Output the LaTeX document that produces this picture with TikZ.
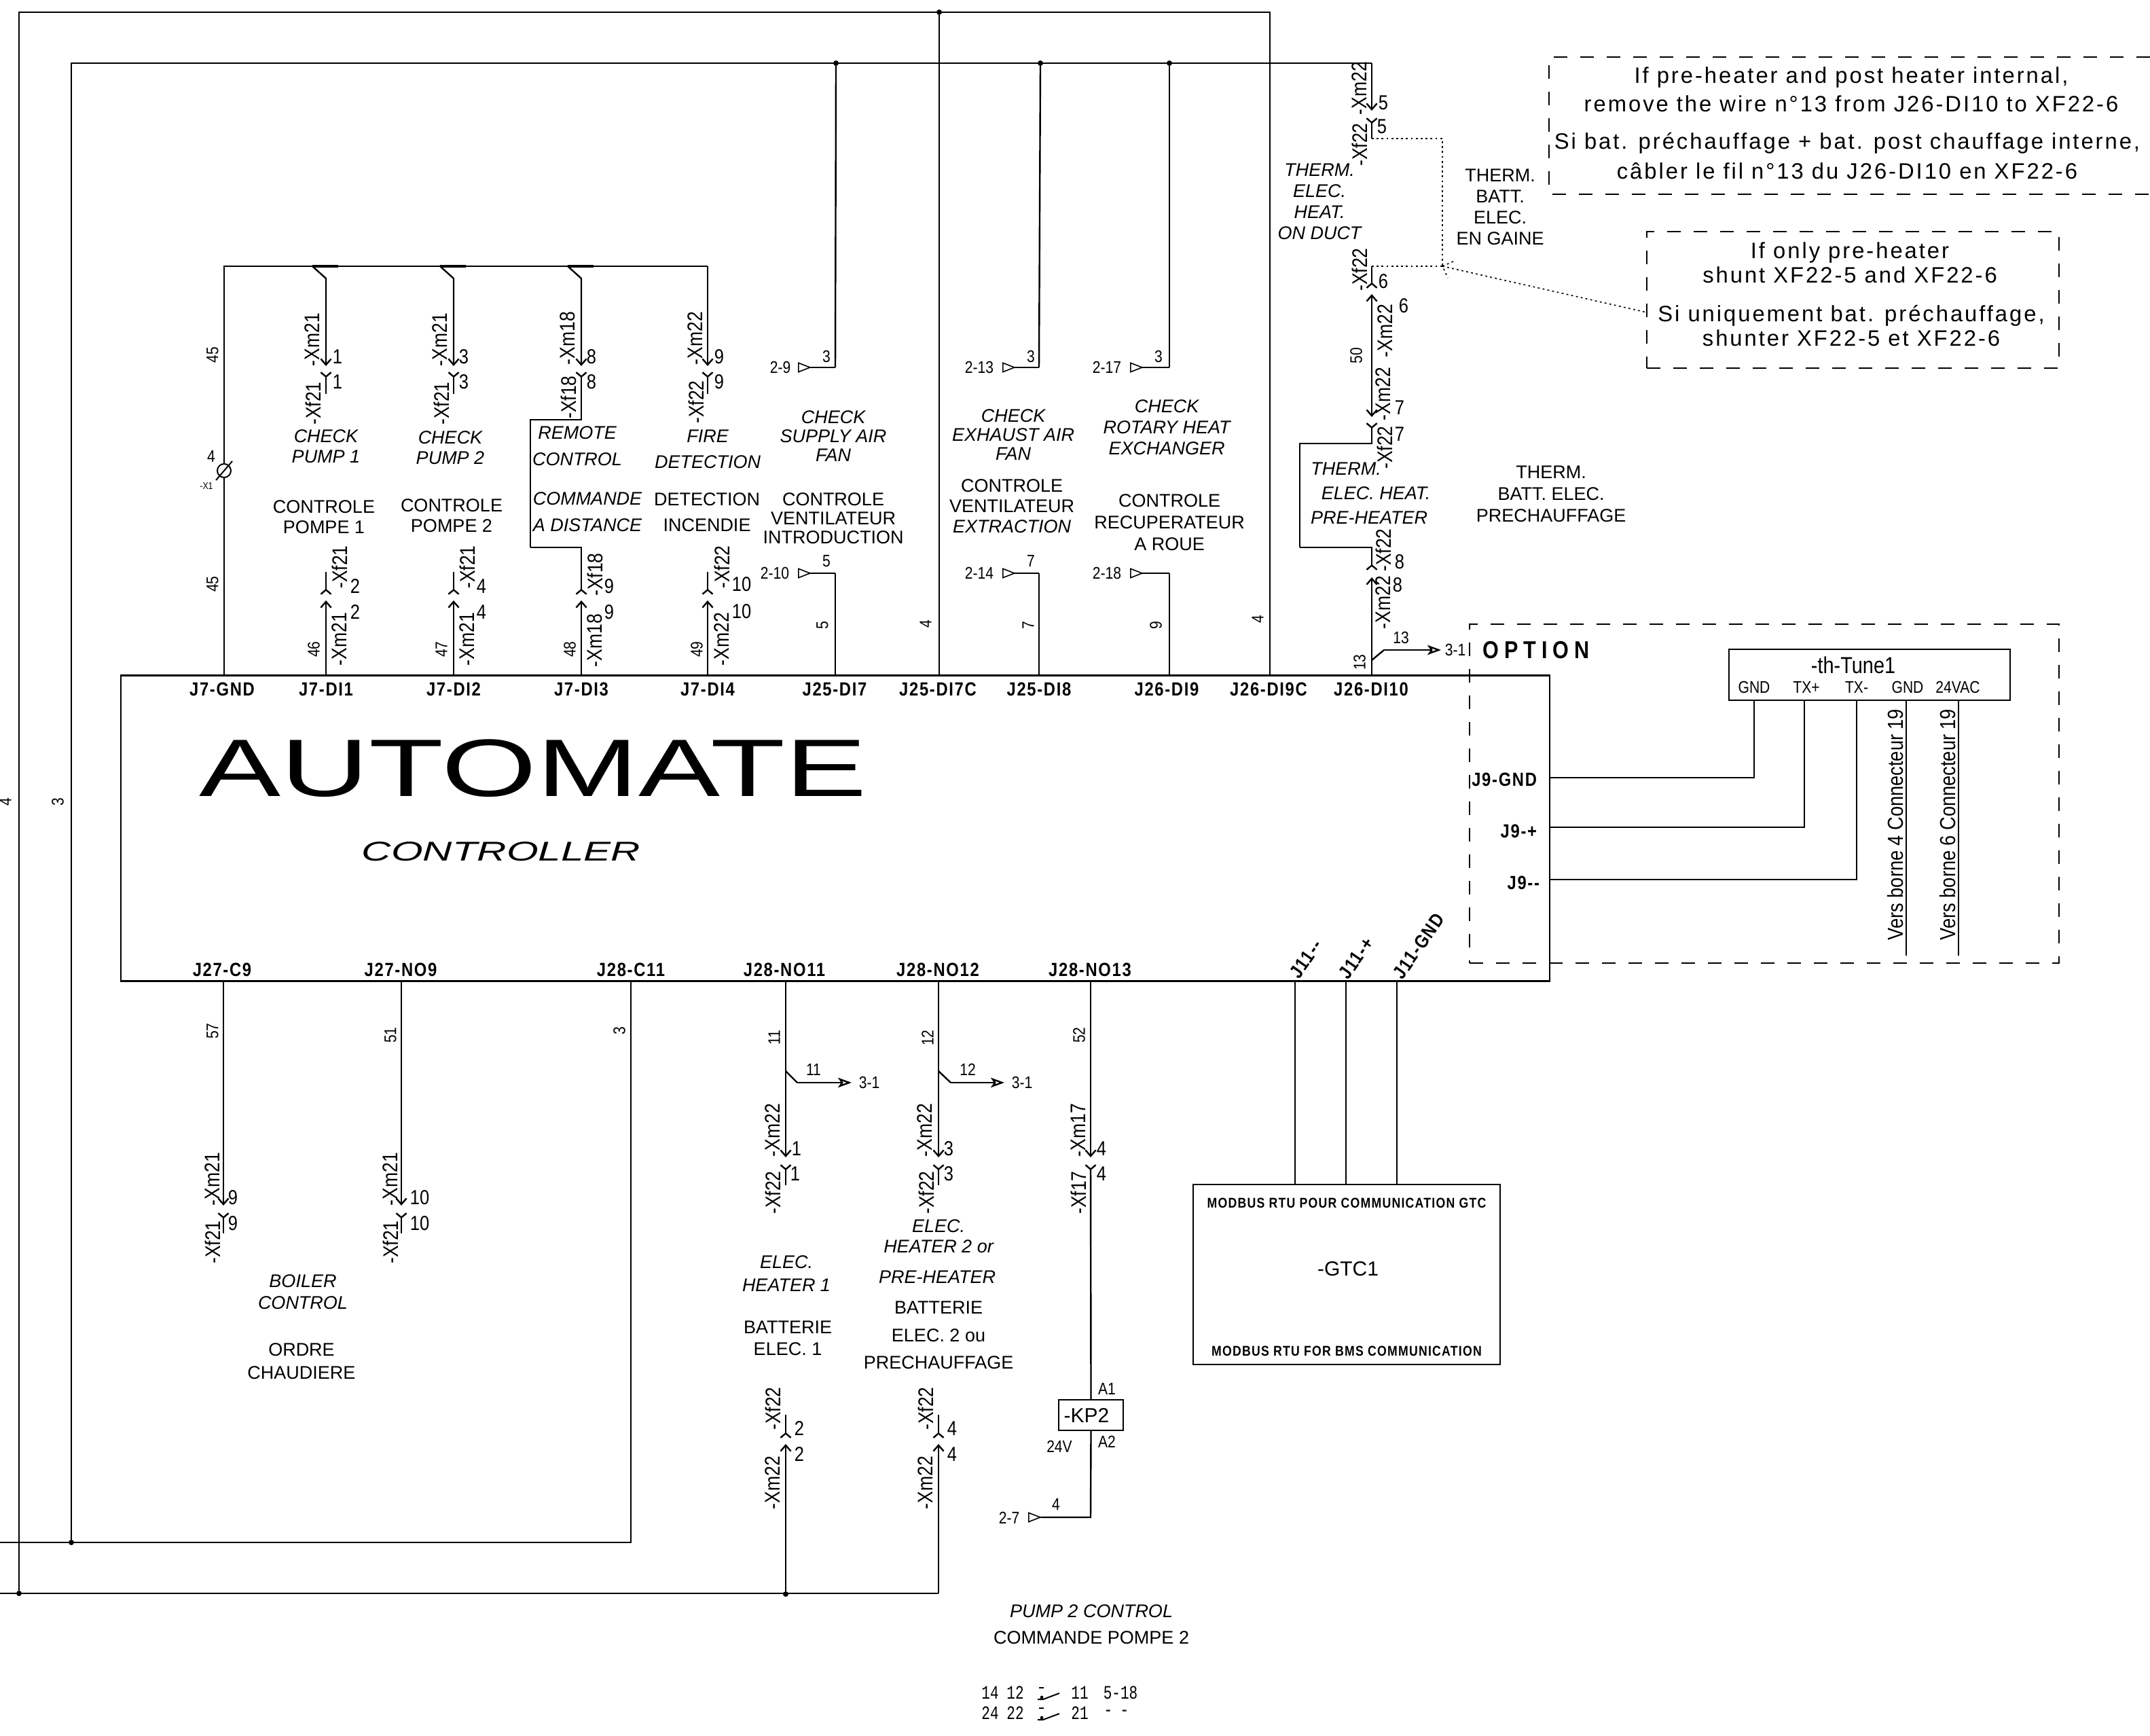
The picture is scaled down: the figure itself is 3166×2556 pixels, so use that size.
\documentclass[tikz,border=0pt]{standalone}
\usepackage{fontspec}
\setmainfont{Liberation Sans}
\newfontfamily\cadnarrow[FakeStretch=0.85]{Liberation Sans}
\newfontfamily\cadwide[FakeStretch=1.5]{Liberation Sans}
\newfontfamily\cadbold[FakeStretch=0.85,LetterSpace=6]{Liberation Sans Bold}
\newfontfamily\cadspaced[FakeStretch=0.85,LetterSpace=22]{Liberation Sans Bold}
\newfontfamily\cadnote[FakeStretch=1,LetterSpace=9]{Liberation Sans}
\newfontfamily\cadmono[FakeStretch=0.75]{Liberation Mono}
\usetikzlibrary{arrows.meta}

\begin{document}
\begin{tikzpicture}[x=0.25pt,y=-0.25pt,>={Straight Barb[length=2.2pt,width=3.8pt]}]
		\tikzstyle{every node}=[inner sep=0pt,outer sep=0pt,align=center]
		\tikzstyle{wire}=[line width=0.6pt,line join=miter]
		\tikzstyle{plug}=[wire,->]
		\tikzstyle{socket}=[wire,-{Straight Barb[reversed,length=1.6pt,width=3.8pt]}]
		\tikzstyle{outarrow}=[wire,-{Stealth[open,length=5pt,width=3.6pt,inset=1.2pt]}]
		\tikzstyle{offpage}=[line width=0.4pt,-{Triangle[open,reversed,length=5pt,width=3.8pt]}]
		\tikzstyle{note}=[line width=0.45pt,dash pattern=on 5pt off 4.75pt]
		\tikzstyle{link}=[line width=0.4pt,dash pattern=on 0.7pt off 1.1pt]
		\tikzstyle{dot}=[circle,fill=black,minimum size=2pt]
		\tikzstyle{lbl}=[font=\fontsize{6.75}{7.5}\selectfont]
		\tikzstyle{ilbl}=[font=\fontsize{6.75}{7.5}\selectfont\itshape]
		\tikzstyle{pinlbl}=[rotate=90,font=\cadnarrow\fontsize{7.8}{8}\selectfont]
		\tikzstyle{pinnum}=[font=\cadnarrow\fontsize{7.5}{8}\selectfont]
		\tikzstyle{wirenum}=[rotate=90,font=\cadnarrow\fontsize{6.2}{7}\selectfont]
		\tikzstyle{tag}=[font=\cadnarrow\fontsize{6.2}{7}\selectfont]
		\tikzstyle{jlbl}=[font=\cadbold\fontsize{7}{8}\selectfont]
		\tikzstyle{jlblr}=[rotate=55,font=\cadbold\fontsize{7}{8}\selectfont]
		\tikzstyle{notetxt}=[font=\cadnote\fontsize{8.2}{9}\selectfont]
		\tikzstyle{vers}=[rotate=90,font=\cadnarrow\fontsize{8}{9}\selectfont]
		\tikzstyle{relay}=[font=\cadmono\fontsize{7}{8}\selectfont]

		\useasboundingbox (0,0) rectangle (3166,2556);

		% controller
		\node[draw,line width=0.6pt,minimum width=526pt,minimum height=112.5pt] (plc) at (1230,1219.5) {};
		\node[font=\cadwide\fontsize{30}{31}\selectfont] (automate) at (785,1131) {AUTOMATE};
		\node[font=\cadwide\fontsize{10}{11}\selectfont\itshape] (controller) at (738,1254) {CONTROLLER};

		\coordinate (tGnd) at (330,994);
		\coordinate (tDia) at (480,994);
		\coordinate (tDib) at (668,994);
		\coordinate (tDic) at (856,994);
		\coordinate (tDid) at (1042,994);
		\coordinate (tSup) at (1230,994);
		\coordinate (tCom) at (1383,994);
		\coordinate (tExh) at (1530,994);
		\coordinate (tRot) at (1722,994);
		\coordinate (tRet) at (1870,994);
		\coordinate (tOut) at (2020,994);
		\coordinate (bBoil) at (329,1444);
		\coordinate (bNoa) at (591,1444);
		\coordinate (bRet) at (929,1444);
		\coordinate (bHa) at (1157,1444);
		\coordinate (bHb) at (1382,1444);
		\coordinate (bKp) at (1606,1444);
		\coordinate (bMa) at (1907,1444);
		\coordinate (bMb) at (1982,1444);
		\coordinate (bMc) at (2057,1444);

		\node[jlbl] (jGnd) at (327,1015) {J7-GND};
		\node[jlbl] (jDia) at (480,1015) {J7-DI1};
		\node[jlbl] (jDib) at (668,1015) {J7-DI2};
		\node[jlbl] (jDic) at (856,1015) {J7-DI3};
		\node[jlbl] (jDid) at (1042,1015) {J7-DI4};
		\node[jlbl] (jSup) at (1229,1015) {J25-DI7};
		\node[jlbl] (jCom) at (1381,1015) {J25-DI7C};
		\node[jlbl] (jExh) at (1530,1015) {J25-DI8};
		\node[jlbl] (jRot) at (1718,1015) {J26-DI9};
		\node[jlbl] (jRet) at (1868,1015) {J26-DI9C};
		\node[jlbl] (jOut) at (2019,1015) {J26-DI10};
		\node[jlbl] (jBoil) at (327,1428) {J27-C9};
		\node[jlbl] (jNoa) at (590,1428) {J27-NO9};
		\node[jlbl] (jRetb) at (929,1428) {J28-C11};
		\node[jlbl] (jHa) at (1155,1428) {J28-NO11};
		\node[jlbl] (jHb) at (1381,1428) {J28-NO12};
		\node[jlbl] (jKp) at (1605,1428) {J28-NO13};
		\node[jlblr] (jMa) at (1923,1412) {J11--};
		\node[jlblr] (jMb) at (1997,1411) {J11-+};
		\node[jlblr] (jMc) at (2089,1393) {J11-GND};
		\node[jlbl,anchor=east] (jNg) at (2263,1148) {J9-GND};
		\node[jlbl,anchor=east] (jNp) at (2263,1224) {J9-+};
		\node[jlbl,anchor=east] (jNm) at (2267,1300) {J9--};

		% loop wire 4
		\node[dot] (dotTop) at (1383,18) {};
		\node[dot] (dotLeft) at (28,2346) {};
		\node[dot] (dotHa) at (1157,2347) {};
		\coordinate (retTop) at (1870,18);
		\coordinate (leftTop) at (28,18);
		\coordinate (botEnd) at (0,2346);
		\coordinate (botHb) at (1382,2346);
		\draw[wire] (tRet) -- (retTop) -- (leftTop) -- (dotLeft);
		\draw[wire] (tCom) -- (dotTop);
		\draw[wire] (botEnd) -- (botHb);
		\node[wirenum] (nLeftb) at (8,1181) {4};
		\node[wirenum] (nCom) at (1363,919) {4};
		\node[wirenum] (nRet) at (1852,912) {4};

		% loop wire 3
		\node[dot] (dotRet) at (105,2271) {};
		\node[dot] (dotSup) at (1231,93) {};
		\node[dot] (dotExh) at (1532,93) {};
		\node[dot] (dotRot) at (1722,93) {};
		\coordinate (outTop) at (2020,93);
		\coordinate (retLeft) at (105,93);
		\coordinate (retEnd) at (0,2271);
		\coordinate (retB) at (929,2271);
		\draw[wire] (outTop) -- (retLeft) -- (dotRet);
		\draw[wire] (retEnd) -- (retB) -- (bRet);
		\node[wirenum] (nLefta) at (85,1181) {3};
		\node[wirenum] (nRetb) at (912,1518) {3};

		% digital inputs J7
		\coordinate (busL) at (330,392);
		\coordinate (busR) at (1042,392);
		\node[circle,draw,line width=0.5pt,minimum size=5pt] (xone) at (330,693) {};
		\coordinate (xoneA) at (318,707);
		\coordinate (xoneB) at (342,679);
		\draw[wire] (tGnd) -- (xone.south);
		\draw[wire] (xone.north) -- (busL) -- (busR);
		\draw[line width=0.5pt] (xoneA) -- (xoneB);
		\node[wirenum] (nGndb) at (313,523) {45};
		\node[wirenum] (nGndc) at (313,860) {45};
		\node[tag] (nFour) at (311,672) {4};
		\node[font=\cadnarrow\fontsize{3.6}{4}\selectfont] (xlbl) at (304,716) {-X1};

		\coordinate (aBus) at (460,392);
		\coordinate (aBusb) at (498,392);
		\coordinate (aKnee) at (480,410);
		\coordinate (aTip) at (480,539);
		\coordinate (aLow) at (480,580);
		\coordinate (aApex) at (480,547);
		\coordinate (aSt) at (480,842);
		\coordinate (aEnd) at (480,876);
		\coordinate (aUp) at (480,884);
		\draw[line width=1pt] (aBus) -- (aBusb);
		\draw[plug] (aBus) -- (aKnee) -- (aTip);
		\draw[socket] (aLow) -- (aApex);
		\draw[socket] (aSt) -- (aEnd);
		\draw[plug] (tDia) -- (aUp);
		\node[pinlbl] (xmAa) at (460,500) {-Xm21};
		\node[pinlbl] (xfAa) at (461,594) {-Xf21};
		\node[pinlbl] (xfAb) at (500,835) {-Xf21};
		\node[pinlbl] (xmAb) at (500,941) {-Xm21};
		\node[pinnum] (pAa) at (497,525) {1};
		\node[pinnum] (pAb) at (497,562) {1};
		\node[pinnum] (pAc) at (523,863) {2};
		\node[pinnum] (pAd) at (523,901) {2};
		\node[wirenum] (nA) at (462,956) {46};

		\coordinate (bBus) at (648,392);
		\coordinate (bBusb) at (686,392);
		\coordinate (bKnee) at (668,410);
		\coordinate (bTip) at (668,539);
		\coordinate (bLow) at (668,580);
		\coordinate (bApex) at (668,547);
		\coordinate (bSt) at (668,842);
		\coordinate (bEnd) at (668,876);
		\coordinate (bUp) at (668,884);
		\draw[line width=1pt] (bBus) -- (bBusb);
		\draw[plug] (bBus) -- (bKnee) -- (bTip);
		\draw[socket] (bLow) -- (bApex);
		\draw[socket] (bSt) -- (bEnd);
		\draw[plug] (tDib) -- (bUp);
		\node[pinlbl] (xmBa) at (648,500) {-Xm21};
		\node[pinlbl] (xfBa) at (650,594) {-Xf21};
		\node[pinlbl] (xfBb) at (688,835) {-Xf21};
		\node[pinlbl] (xmBb) at (688,941) {-Xm21};
		\node[pinnum] (pBa) at (683,525) {3};
		\node[pinnum] (pBb) at (683,562) {3};
		\node[pinnum] (pBc) at (709,863) {4};
		\node[pinnum] (pBd) at (709,901) {4};
		\node[wirenum] (nB) at (650,956) {47};

		\coordinate (cBus) at (836,392);
		\coordinate (cBusb) at (874,392);
		\coordinate (cKnee) at (856,410);
		\coordinate (cTip) at (856,539);
		\coordinate (cHi) at (856,618);
		\coordinate (cApex) at (856,547);
		\coordinate (cJogA) at (781,618);
		\coordinate (cJogB) at (781,806);
		\coordinate (cLo) at (856,806);
		\coordinate (cEnd) at (856,876);
		\coordinate (cUp) at (856,884);
		\draw[line width=1pt] (cBus) -- (cBusb);
		\draw[plug] (cBus) -- (cKnee) -- (cTip);
		\draw[socket] (cJogB) -- (cJogA) -- (cHi) -- (cApex);
		\draw[socket] (cJogB) -- (cLo) -- (cEnd);
		\draw[plug] (tDic) -- (cUp);
		\node[pinlbl] (xmCa) at (836,498) {-Xm18};
		\node[pinlbl] (xfCa) at (837,585) {-Xf18};
		\node[pinlbl] (xfCb) at (876,846) {-Xf18};
		\node[pinlbl] (xmCb) at (876,943) {-Xm18};
		\node[pinnum] (pCa) at (871,525) {8};
		\node[pinnum] (pCb) at (871,562) {8};
		\node[pinnum] (pCc) at (897,863) {9};
		\node[pinnum] (pCd) at (897,901) {9};
		\node[wirenum] (nC) at (839,956) {48};

		\coordinate (dTip) at (1042,539);
		\coordinate (dLow) at (1042,580);
		\coordinate (dApex) at (1042,547);
		\coordinate (dSt) at (1042,842);
		\coordinate (dEnd) at (1042,876);
		\coordinate (dUp) at (1042,884);
		\draw[plug] (busR) -- (dTip);
		\draw[socket] (dLow) -- (dApex);
		\draw[socket] (dSt) -- (dEnd);
		\draw[plug] (tDid) -- (dUp);
		\node[pinlbl] (xmDa) at (1024,498) {-Xm22};
		\node[pinlbl] (xfDa) at (1025,592) {-Xf22};
		\node[pinlbl] (xfDb) at (1063,835) {-Xf22};
		\node[pinlbl] (xmDb) at (1063,941) {-Xm22};
		\node[pinnum] (pDa) at (1059,525) {9};
		\node[pinnum] (pDb) at (1059,562) {9};
		\node[pinnum] (pDc) at (1092,860) {10};
		\node[pinnum] (pDd) at (1092,900) {10};
		\node[wirenum] (nD) at (1026,956) {49};

		\node[ilbl] (chkA) at (480,657) {CHECK\\PUMP 1};
		\node[lbl] (ctrA) at (477,761) {CONTROLE\\POMPE 1};
		\node[ilbl] (chkB) at (663,659) {CHECK\\PUMP 2};
		\node[lbl] (ctrB) at (665,759) {CONTROLE\\POMPE 2};
		\node[ilbl] (rmt) at (850,657) {REMOTE\\[2.2pt]CONTROL};
		\node[ilbl] (cmd) at (865,754) {COMMANDE\\[2.2pt]A DISTANCE};
		\node[ilbl] (fire) at (1042,661) {FIRE\\[2pt]DETECTION};
		\node[lbl] (det) at (1041,754) {DETECTION\\[2pt]INCENDIE};

		% fans and recovery
		\coordinate (supA) at (1230,541);
		\coordinate (supB) at (1175,541);
		\coordinate (supC) at (1230,844);
		\coordinate (supD) at (1175,844);
		\draw[wire] (dotSup) -- (supA);
		\draw[offpage] (supA) -- (supB);
		\draw[wire] (tSup) -- (supC);
		\draw[offpage] (supC) -- (supD);
		\node[tag] (tSa) at (1149,541) {2-9};
		\node[tag] (tSb) at (1217,525) {3};
		\node[tag] (tSc) at (1141,844) {2-10};
		\node[tag] (tSd) at (1217,826) {5};
		\node[wirenum] (nS) at (1211,921) {5};
		\node[ilbl] (chkS) at (1227,642) {CHECK\\[-0.5pt]SUPPLY AIR\\[-0.5pt]FAN};
		\node[lbl] (ctrS) at (1227,763) {CONTROLE\\[-0.5pt]VENTILATEUR\\[-0.5pt]INTRODUCTION};

		\coordinate (exhA) at (1530,541);
		\coordinate (exhB) at (1476,541);
		\coordinate (exhC) at (1530,844);
		\coordinate (exhD) at (1476,844);
		\draw[wire] (dotExh) -- (exhA);
		\draw[offpage] (exhA) -- (exhB);
		\draw[wire] (tExh) -- (exhC);
		\draw[offpage] (exhC) -- (exhD);
		\node[tag] (tEa) at (1442,541) {2-13};
		\node[tag] (tEb) at (1518,525) {3};
		\node[tag] (tEc) at (1442,844) {2-14};
		\node[tag] (tEd) at (1518,826) {7};
		\node[wirenum] (nE) at (1514,921) {7};
		\node[ilbl] (chkE) at (1492,640) {CHECK\\[-0.5pt]EXHAUST AIR\\[-0.5pt]FAN};
		\node[lbl] (ctrE) at (1490,745) {CONTROLE\\VENTILATEUR\\{\itshape EXTRACTION}};

		\coordinate (rotA) at (1722,541);
		\coordinate (rotB) at (1664,541);
		\coordinate (rotC) at (1722,844);
		\coordinate (rotD) at (1664,844);
		\draw[wire] (dotRot) -- (rotA);
		\draw[offpage] (rotA) -- (rotB);
		\draw[wire] (tRot) -- (rotC);
		\draw[offpage] (rotC) -- (rotD);
		\node[tag] (tRa) at (1630,541) {2-17};
		\node[tag] (tRb) at (1706,525) {3};
		\node[tag] (tRc) at (1630,844) {2-18};
		\node[wirenum] (nR) at (1702,921) {9};
		\node[ilbl] (chkR) at (1718,629) {CHECK\\[0.3pt]ROTARY HEAT\\[0.3pt]EXCHANGER};
		\node[lbl] (ctrR) at (1722,769) {CONTROLE\\[0.5pt]RECUPERATEUR\\[0.5pt]A ROUE};

		% thermostats
		\coordinate (oTipa) at (2020,163);
		\coordinate (oApa) at (2020,173);
		\coordinate (oLowa) at (2020,204);
		\coordinate (oDotC) at (2124,204);
		\coordinate (oDotD) at (2124,392);
		\coordinate (oHib) at (2020,392);
		\coordinate (oApb) at (2020,425);
		\coordinate (oTipb) at (2020,433);
		\coordinate (oTipc) at (2020,614);
		\coordinate (oApc) at (2020,622);
		\coordinate (oKneeA) at (2020,653);
		\coordinate (oKneeB) at (1914,653);
		\coordinate (oKneeC) at (1914,806);
		\coordinate (oKneeD) at (2020,806);
		\coordinate (oApd) at (2020,840);
		\coordinate (oTipd) at (2020,850);
		\coordinate (oBr) at (2020,972);
		\coordinate (oBrb) at (2038,957);
		\coordinate (oBrc) at (2122,957);
		\coordinate (tickA) at (2140,385);
		\coordinate (tickB) at (2132,409);
		\draw[plug] (outTop) -- (oTipa);
		\draw[socket] (oLowa) -- (oApa);
		\draw[socket] (oHib) -- (oApb);
		\draw[plug,<->] (oTipb) -- (oTipc);
		\draw[socket] (oKneeC) -- (oKneeB) -- (oKneeA) -- (oApc);
		\draw[socket] (oKneeC) -- (oKneeD) -- (oApd);
		\draw[plug] (tOut) -- (oTipd);
		\draw[wire] (oBr) -- (oBrb);
		\draw[outarrow] (oBrb) -- (oBrc);
		\draw[link] (oLowa) -- (oDotC) -- (oDotD);
		\draw[link] (oHib) -- (oDotD);
		\draw[link] (tickA) -- (oDotD) -- (tickB);
		\node[pinlbl] (xmOa) at (2002,130) {-Xm22};
		\node[pinlbl] (xfOa) at (2002,213) {-Xf22};
		\node[pinlbl] (xfOb) at (2002,397) {-Xf22};
		\node[pinlbl] (xmOb) at (2040,487) {-Xm22};
		\node[pinlbl] (xmOc) at (2037,580) {-Xm22};
		\node[pinlbl] (xfOc) at (2039,659) {-Xf22};
		\node[pinlbl] (xfOd) at (2037,810) {-Xf22};
		\node[pinlbl] (xmOd) at (2037,887) {-Xm22};
		\node[pinnum] (pOa) at (2037,151) {5};
		\node[pinnum] (pOb) at (2035,186) {5};
		\node[pinnum] (pOc) at (2037,414) {6};
		\node[pinnum] (pOd) at (2067,450) {6};
		\node[pinnum] (pOe) at (2061,600) {7};
		\node[pinnum] (pOf) at (2061,639) {7};
		\node[pinnum] (pOg) at (2061,827) {8};
		\node[pinnum] (pOh) at (2058,861) {8};
		\node[wirenum] (nOa) at (1997,524) {50};
		\node[wirenum] (nOb) at (2002,975) {13};
		\node[tag] (tOa) at (2063,939) {13};
		\node[tag] (tOb) at (2143,957) {3-1};
		\node[ilbl] (thA) at (1943,297) {THERM.\\[0.25pt]ELEC.\\[0.25pt]HEAT.\\[0.25pt]ON DUCT};
		\node[lbl] (thB) at (2209,305) {THERM.\\[0.25pt]BATT.\\[0.25pt]ELEC.\\[0.25pt]EN GAINE};
		\node[ilbl] (thCa) at (1982,690) {THERM.};
		\node[ilbl] (thCb) at (2026,726) {ELEC. HEAT.};
		\node[ilbl] (thCc) at (2016,762) {PRE-HEATER};
		\node[lbl] (thD) at (2284,727) {THERM.\\[0.5pt]BATT. ELEC.\\[0.5pt]PRECHAUFFAGE};

		% notes
		\coordinate (noteA) at (3166,84);
		\coordinate (noteB) at (2281,84);
		\coordinate (noteC) at (2281,286);
		\coordinate (noteD) at (3166,286);
		\draw[note] (noteA) -- (noteB) -- (noteC) -- (noteD);
		\node[notetxt] (noteAa) at (2726,132) {If pre-heater and post heater internal,\\[1.5pt]remove the wire n°13 from J26-DI10 to XF22-6};
		\node[notetxt] (noteAb) at (2720,230) {Si bat. préchauffage + bat. post chauffage interne,\\[2pt]câbler le fil n°13 du J26-DI10 en XF22-6};
		\node[draw,note,minimum width=151.75pt,minimum height=50.25pt] (noteBox) at (2728.5,441.5) {};
		\node[notetxt] (noteBa) at (2724,387) {If only pre-heater\\shunt XF22-5 and XF22-6};
		\node[notetxt] (noteBb) at (2726,480) {Si uniquement bat. préchauffage,\\shunter XF22-5 et XF22-6};
		\coordinate (noteEnd) at (2425,460);
		\draw[link] (oDotD) -- (noteEnd);

		% option
		\node[draw,note,minimum width=217pt,minimum height=124.75pt] (option) at (2598,1168.5) {};
		\node[font=\cadspaced\fontsize{9}{10}\selectfont] (optLbl) at (2262,957) {OPTION};
		\node[draw,line width=0.6pt,minimum width=103.5pt,minimum height=18.75pt] (tune) at (2753,993.5) {};
		\node[font=\cadnarrow\fontsize{8.5}{9}\selectfont] (tuneLbl) at (2729,979) {-th-Tune1};
		\node[tag] (pinGa) at (2583,1012) {GND};
		\node[tag] (pinTp) at (2660,1012) {TX+};
		\node[tag] (pinTm) at (2734,1012) {TX-};
		\node[tag] (pinGb) at (2809,1012) {GND};
		\node[tag] (pinVc) at (2883,1012) {24VAC};
		\coordinate (tGa) at (2583,1031);
		\coordinate (tTp) at (2657,1031);
		\coordinate (tTm) at (2734,1031);
		\coordinate (tGb) at (2807,1031);
		\coordinate (tVc) at (2884,1031);
		\coordinate (kGa) at (2583,1145);
		\coordinate (kTp) at (2657,1218);
		\coordinate (kTm) at (2734,1295);
		\coordinate (eGa) at (2282,1145);
		\coordinate (eTp) at (2282,1218);
		\coordinate (eTm) at (2282,1295);
		\coordinate (eGb) at (2807,1407);
		\coordinate (eVc) at (2884,1407);
		\draw[wire] (tGa) -- (kGa) -- (eGa);
		\draw[wire] (tTp) -- (kTp) -- (eTp);
		\draw[wire] (tTm) -- (kTm) -- (eTm);
		\draw[wire] (tGb) -- (eGb);
		\draw[wire] (tVc) -- (eVc);
		\node[vers] (versA) at (2791,1214) {Vers borne 4 Connecteur 19};
		\node[vers] (versB) at (2868,1214) {Vers borne 6 Connecteur 19};

		% modbus
		\node[draw,line width=0.6pt,minimum width=113pt,minimum height=66.25pt] (gtc) at (1983,1876.5) {};
		\node[font=\cadbold\fontsize{5.2}{6}\selectfont] (gtcTop) at (1983,1771) {MODBUS RTU POUR COMMUNICATION GTC};
		\node[font=\fontsize{7.5}{8}\selectfont] (gtcName) at (1985,1868) {-GTC1};
		\node[font=\cadbold\fontsize{5.2}{6}\selectfont] (gtcBot) at (1983,1989) {MODBUS RTU FOR BMS COMMUNICATION};
		\coordinate (gMa) at (1907,1744);
		\coordinate (gMb) at (1982,1744);
		\coordinate (gMc) at (2057,1744);
		\draw[wire] (bMa) -- (gMa);
		\draw[wire] (bMb) -- (gMb);
		\draw[wire] (bMc) -- (gMc);

		% boiler
		\coordinate (blTip) at (329,1775);
		\coordinate (blApex) at (329,1785);
		\coordinate (blLow) at (329,1816);
		\coordinate (noTip) at (591,1775);
		\coordinate (noApex) at (591,1785);
		\coordinate (noLow) at (591,1816);
		\draw[plug] (bBoil) -- (blTip);
		\draw[socket] (blLow) -- (blApex);
		\draw[plug] (bNoa) -- (noTip);
		\draw[socket] (noLow) -- (noApex);
		\node[wirenum] (nBl) at (313,1518) {57};
		\node[wirenum] (nNo) at (575,1524) {51};
		\node[pinlbl] (xmBl) at (313,1736) {-Xm21};
		\node[pinlbl] (xfBl) at (313,1829) {-Xf21};
		\node[pinlbl] (xmNo) at (575,1736) {-Xm21};
		\node[pinlbl] (xfNo) at (575,1829) {-Xf21};
		\node[pinnum] (pBla) at (343,1763) {9};
		\node[pinnum] (pBlb) at (343,1801) {9};
		\node[pinnum] (pNoa) at (618,1763) {10};
		\node[pinnum] (pNob) at (618,1801) {10};
		\node[ilbl] (boil) at (446,1902) {BOILER\\[0.5pt]CONTROL};
		\node[lbl] (ordre) at (444,2004) {ORDRE\\[1pt]CHAUDIERE};

		% heaters
		\coordinate (haBr) at (1157,1577);
		\coordinate (haBrb) at (1174,1594);
		\coordinate (haBrc) at (1254,1594);
		\coordinate (haTip) at (1157,1704);
		\coordinate (haApex) at (1157,1714);
		\coordinate (haLow) at (1157,1745);
		\coordinate (haSt) at (1157,2083);
		\coordinate (haEnd) at (1157,2118);
		\coordinate (haUp) at (1157,2126);
		\draw[plug] (bHa) -- (haTip);
		\draw[wire] (haBr) -- (haBrb);
		\draw[outarrow] (haBrb) -- (haBrc);
		\draw[socket] (haLow) -- (haApex);
		\draw[socket] (haSt) -- (haEnd);
		\draw[plug] (dotHa) -- (haUp);
		\node[wirenum] (nHa) at (1140,1528) {11};
		\node[tag] (tHa) at (1198,1575) {11};
		\node[tag] (tHb) at (1280,1594) {3-1};
		\node[pinlbl] (xmHa) at (1138,1664) {-Xm22};
		\node[pinlbl] (xfHa) at (1138,1756) {-Xf22};
		\node[pinlbl] (xfHb) at (1138,2074) {-Xf22};
		\node[pinlbl] (xmHb) at (1138,2183) {-Xm22};
		\node[pinnum] (pHa) at (1173,1691) {1};
		\node[pinnum] (pHb) at (1171,1728) {1};
		\node[pinnum] (pHc) at (1177,2103) {2};
		\node[pinnum] (pHd) at (1177,2141) {2};
		\node[ilbl] (heatA) at (1158,1875) {ELEC.\\[1pt]HEATER 1};
		\node[lbl] (batA) at (1160,1970) {BATTERIE\\[0.5pt]ELEC. 1};

		\coordinate (hbBr) at (1382,1577);
		\coordinate (hbBrb) at (1400,1594);
		\coordinate (hbBrc) at (1479,1594);
		\coordinate (hbTip) at (1382,1704);
		\coordinate (hbApex) at (1382,1714);
		\coordinate (hbLow) at (1382,1745);
		\coordinate (hbSt) at (1382,2083);
		\coordinate (hbEnd) at (1382,2118);
		\coordinate (hbUp) at (1382,2126);
		\draw[plug] (bHb) -- (hbTip);
		\draw[wire] (hbBr) -- (hbBrb);
		\draw[outarrow] (hbBrb) -- (hbBrc);
		\draw[socket] (hbLow) -- (hbApex);
		\draw[socket] (hbSt) -- (hbEnd);
		\draw[plug] (botHb) -- (hbUp);
		\node[wirenum] (nHb) at (1366,1528) {12};
		\node[tag] (tHc) at (1425,1575) {12};
		\node[tag] (tHd) at (1505,1594) {3-1};
		\node[pinlbl] (xmHc) at (1362,1664) {-Xm22};
		\node[pinlbl] (xfHc) at (1364,1756) {-Xf22};
		\node[pinlbl] (xfHd) at (1363,2074) {-Xf22};
		\node[pinlbl] (xmHd) at (1363,2183) {-Xm22};
		\node[pinnum] (pHe) at (1397,1691) {3};
		\node[pinnum] (pHf) at (1397,1728) {3};
		\node[pinnum] (pHg) at (1402,2103) {4};
		\node[pinnum] (pHh) at (1402,2141) {4};
		\node[ilbl] (heatB) at (1382,1820) {ELEC.\\HEATER 2 or};
		\node[ilbl] (preB) at (1380,1880) {PRE-HEATER};
		\node[lbl] (batB) at (1382,1966) {BATTERIE\\[2.7pt]ELEC. 2 ou\\[2.7pt]PRECHAUFFAGE};

		% relay
		\node[draw,line width=0.5pt,minimum width=23.75pt,minimum height=11.25pt] (kp) at (1606.5,2083.5) {};
		\node[font=\fontsize{7.5}{8}\selectfont] (kpLbl) at (1600,2084) {-KP2};
		\coordinate (kpTip) at (1606,1704);
		\coordinate (kpApex) at (1606,1714);
		\coordinate (kpA) at (1606,2234);
		\coordinate (kpB) at (1534,2234);
		\coordinate (kpC) at (1514,2234);
		\draw[plug] (bKp) -- (kpTip);
		\draw[socket] (kp.north) -- (kpApex);
		\draw[wire] (kp.south) -- (kpA) -- (kpB);
		\draw[offpage] (kpB) -- (kpC);
		\node[wirenum] (nKp) at (1589,1524) {52};
		\node[pinlbl] (xmKp) at (1588,1664) {-Xm17};
		\node[pinlbl] (xfKp) at (1588,1756) {-Xf17};
		\node[pinnum] (pKa) at (1622,1691) {4};
		\node[pinnum] (pKb) at (1622,1728) {4};
		\node[tag] (tKa) at (1630,2045) {A1};
		\node[tag] (tKb) at (1630,2123) {A2};
		\node[tag] (tKc) at (1560,2130) {24V};
		\node[tag] (tKd) at (1555,2215) {4};
		\node[tag] (tKe) at (1486,2235) {2-7};
		\node[ilbl] (pump) at (1607,2372) {PUMP 2 CONTROL};
		\node[lbl] (cmde) at (1607,2411) {COMMANDE POMPE 2};

		% contact table
		\node[relay] (cA) at (1458,2492) {14};
		\node[relay] (cB) at (1495,2492) {12};
		\node[relay] (cC) at (1590,2492) {11};
		\node[relay] (cD) at (1650,2492) {5-18};
		\node[relay] (cE) at (1458,2522) {24};
		\node[relay] (cF) at (1495,2522) {22};
		\node[relay] (cG) at (1590,2522) {21};
		\node[relay] (cH) at (1632,2522) {-};
		\node[relay] (cI) at (1656,2522) {-};
		\node[circle,fill=black,minimum size=1.2pt] (sAdot) at (1534,2499) {};
		\node[circle,fill=black,minimum size=1.2pt] (sBdot) at (1534,2529) {};
		\coordinate (sAa) at (1530,2485);
		\coordinate (sAb) at (1537,2485);
		\coordinate (sAc) at (1528,2502);
		\coordinate (sAd) at (1536,2502);
		\coordinate (sAe) at (1560,2493);
		\coordinate (sBa) at (1530,2515);
		\coordinate (sBb) at (1537,2515);
		\coordinate (sBc) at (1528,2532);
		\coordinate (sBd) at (1536,2532);
		\coordinate (sBe) at (1560,2523);
		\draw[line width=0.4pt] (sAa) -- (sAb);
		\draw[line width=0.5pt] (sAc) -- (sAd) -- (sAe);
		\draw[line width=0.4pt] (sBa) -- (sBb);
		\draw[line width=0.5pt] (sBc) -- (sBd) -- (sBe);
		\end{tikzpicture}
\end{document}
